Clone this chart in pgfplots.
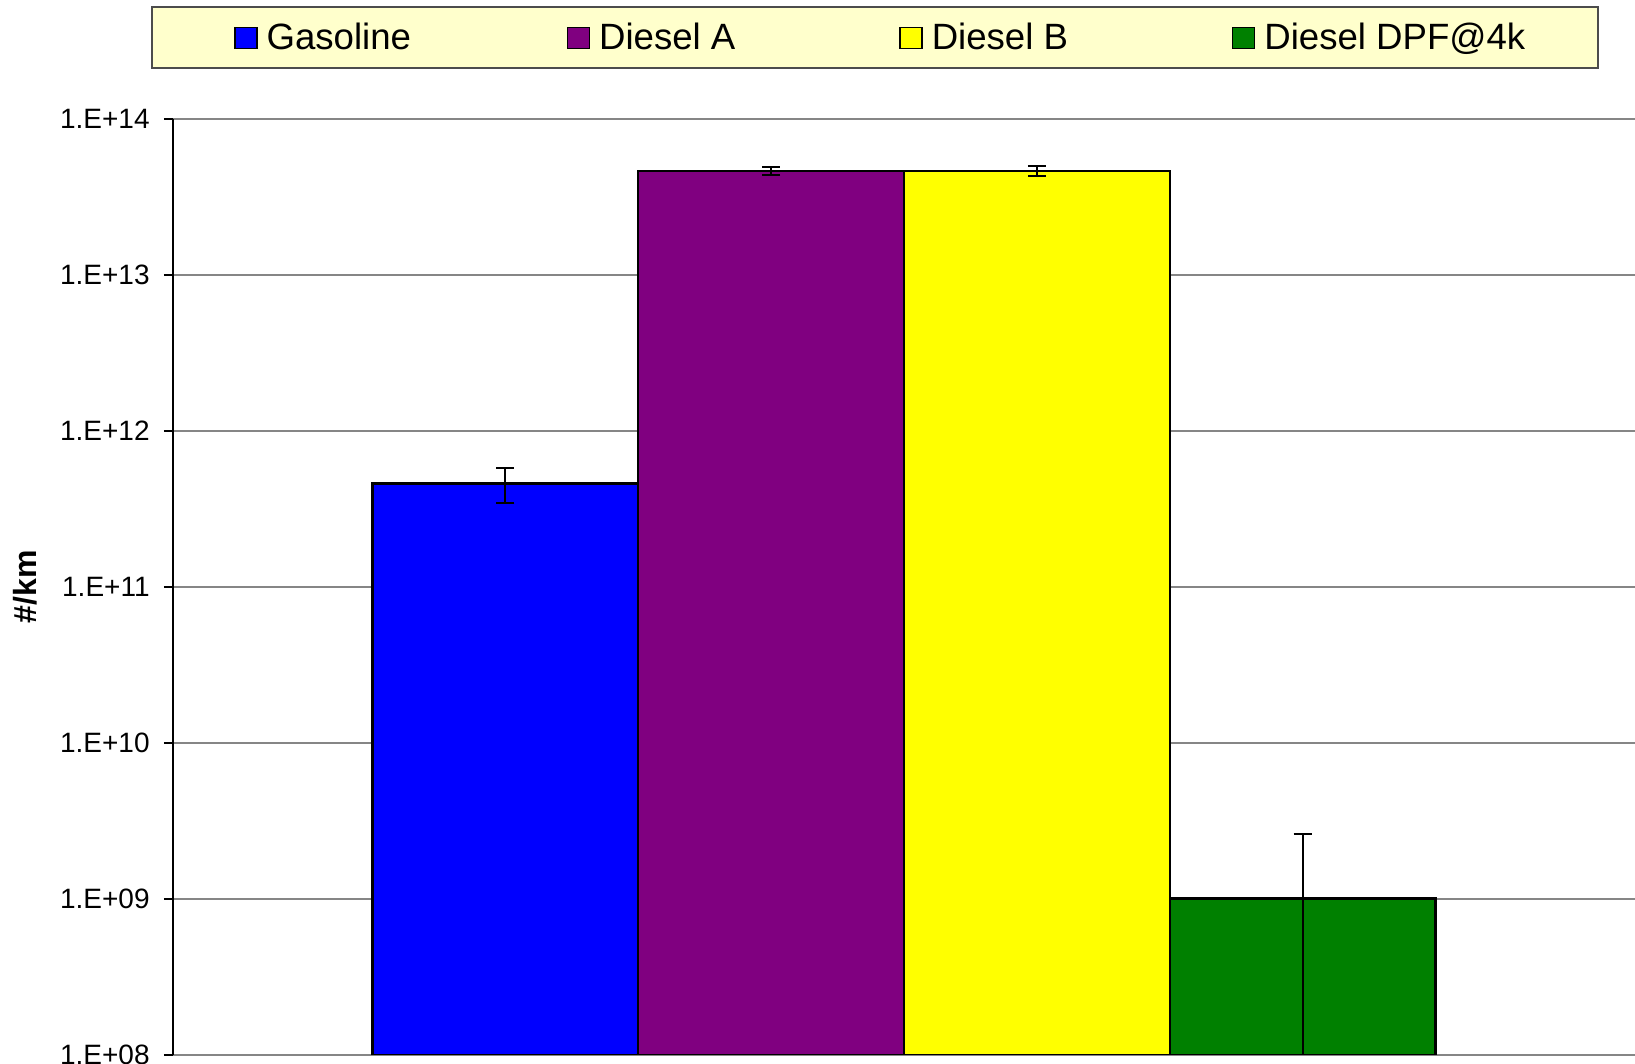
\documentclass[border=0pt]{standalone}
\usepackage{pgfplots}
\pgfplotsset{compat=1.18}
\usepackage{fontspec}
\setmainfont{Liberation Sans}
\definecolor{legbg}{RGB}{255,255,204}
\definecolor{gridgray}{RGB}{134,134,134}
\definecolor{cblue}{RGB}{0,0,255}
\definecolor{cpurple}{RGB}{128,0,128}
\definecolor{cyellow}{RGB}{255,255,0}
\definecolor{cgreen}{RGB}{0,128,0}
\begin{document}
\begin{tikzpicture}
\useasboundingbox (-86.5pt,-4.5pt) rectangle (731pt,527.5pt);
\filldraw[fill=legbg, draw=gray!60!black, line width=0.8pt] (-10.5pt,493.5pt) rectangle (712.5pt,524pt);
\begin{axis}[
  at={(0pt,0pt)}, anchor=south west,
  scale only axis, width=731pt, height=468pt,
  ymode=log, ymin=1e8, ymax=1e14, log origin=infty,
  xmin=-1.25, xmax=4.25,
  ybar, bar width=1, bar shift=0pt,
  axis y line*=left, axis x line*=bottom,
  x axis line style={gridgray, line width=0.8pt},
  y axis line style={black, line width=0.8pt},
  xtick=\empty,
  ytick={1e8,1e9,1e10,1e11,1e12,1e13,1e14},
  yticklabels={\mbox{1.E+08},\mbox{1.E+09},\mbox{1.E+10},\mbox{1.E+11},\mbox{1.E+12},\mbox{1.E+13},\mbox{1.E+14}},
  yminorticks=false,
  ymajorgrids, grid style={gridgray, line width=0.7pt},
  tick align=outside, major tick length=4.5pt,
  tick style={black, line width=0.7pt},
  yticklabel style={font=\fontsize{14}{16}\selectfont, inner sep=0pt, xshift=-7pt},
  every axis y label/.style={at={(axis description cs:-0.1012,0.5)}, rotate=90, anchor=center, font=\fontsize{16}{19}\selectfont\bfseries},
  ylabel={\#/km},
  legend columns=4,
  legend cell align=left,
  legend style={at={(axis description cs:0.04145,1.0865)}, anchor=west, draw=none, fill=none, inner sep=0pt,
    font=\fontsize{18.3}{21}\selectfont,
    /tikz/every even column/.append style={column sep=0pt},
    /tikz/every odd column/.append style={column sep=0pt},
    nodes={inner xsep=4.5pt, inner ysep=0pt}},
  legend image code/.code={\draw[#1, line width=0.8pt] (0pt,-5.25pt) rectangle (11pt,5.25pt);},
  error bars/error bar style={black, line width=1pt},
  error bars/error mark options={black, rotate=90, mark size=4.5pt, line width=1pt},
]
\addplot[fill=cblue, draw=black, line width=1.3pt, error bars/.cd, y dir=both, y explicit]
  coordinates {(0,4.6e11) +- (0,1.15e11)};
\addlegendentry{\makebox[145.5pt][l]{Gasoline}}
\addplot[fill=cpurple, draw=black, line width=1.3pt, error bars/.cd, y dir=both, y explicit]
  coordinates {(1,4.64e13) +- (0,0.28e13)};
\addlegendentry{\makebox[145.5pt][l]{Diesel A}}
\addplot[fill=cyellow, draw=black, line width=1.3pt, error bars/.cd, y dir=both, y explicit]
  coordinates {(2,4.64e13) +- (0,0.35e13)};
\addlegendentry{\makebox[145.5pt][l]{Diesel B}}
\addplot[fill=cgreen, draw=black, line width=1.3pt, error bars/.cd, y dir=both, y explicit]
  coordinates {(3,1.01e9) += (0,1.6e9) -= (0,1.0e9)};
\addlegendentry{\makebox[145.5pt][l]{Diesel DPF@4k}}
\end{axis}
\end{tikzpicture}
\end{document}
